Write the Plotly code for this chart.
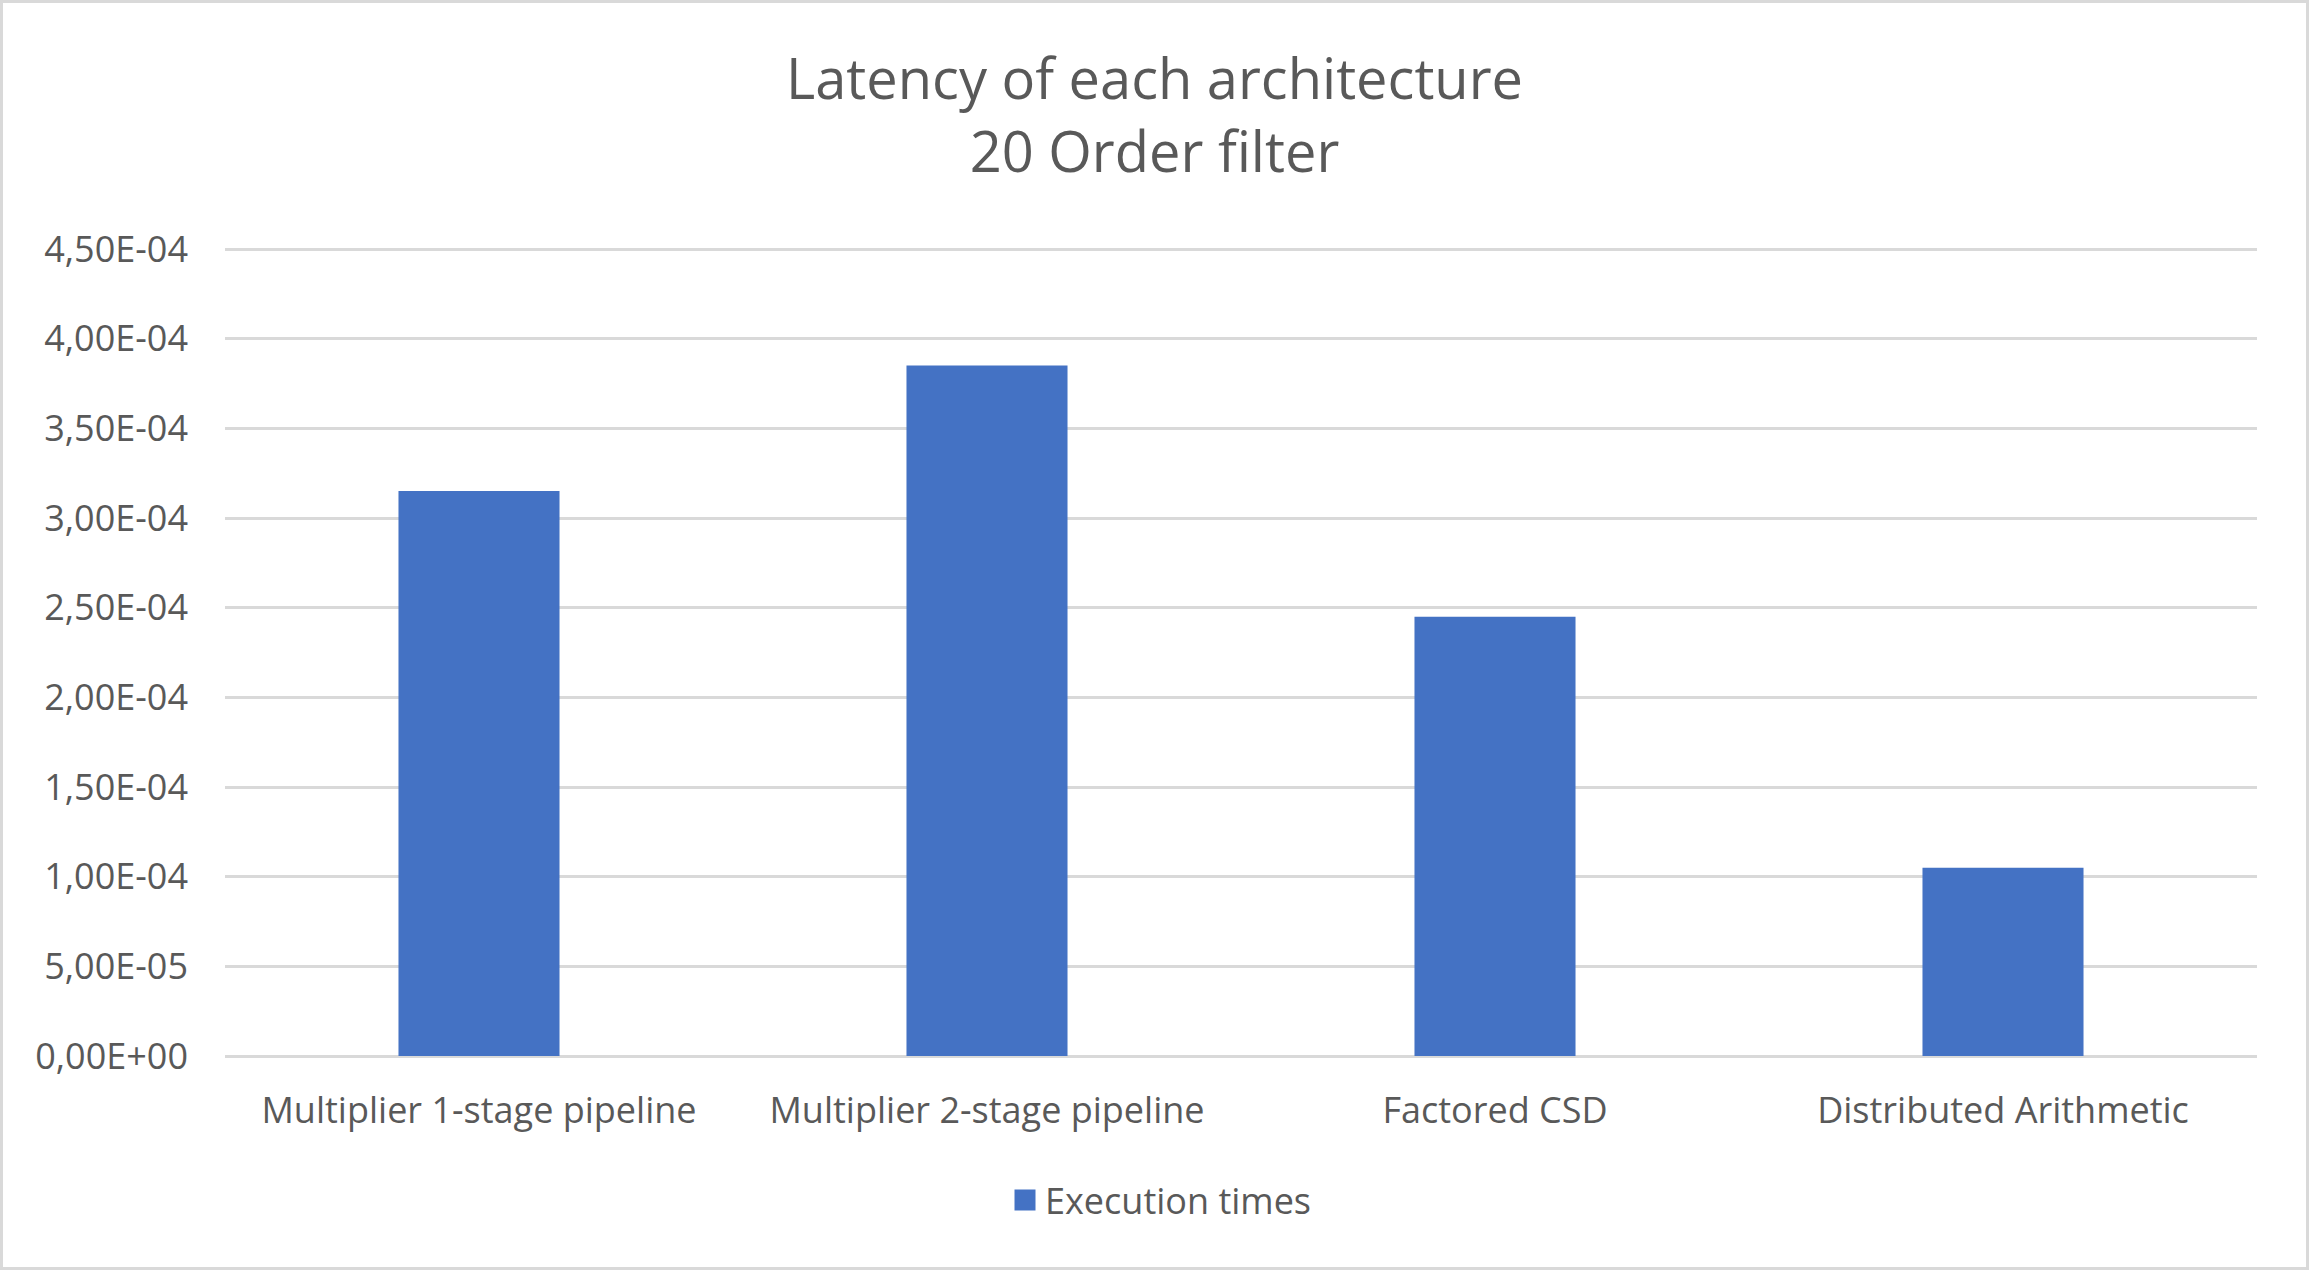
import plotly.graph_objects as go

categories = ["Multiplier 1-stage pipeline", "Multiplier 2-stage pipeline", "Factored CSD", "Distributed Arithmetic"]
execution_times = [3.15e-4, 3.85e-4, 2.45e-4, 1.05e-4]
series_name = "Execution times"
y_tick_values = [0, 5e-5, 1e-4, 1.5e-4, 2e-4, 2.5e-4, 3e-4, 3.5e-4, 4e-4, 4.5e-4]
y_tick_labels = ["0,00E+00", "5,00E-05", "1,00E-04", "1,50E-04", "2,00E-04",
                 "2,50E-04", "3,00E-04", "3,50E-04", "4,00E-04", "4,50E-04"]
y_max = 4.5e-4
title_text = "Latency of each architecture<br>20 Order filter"

W, H = 2309, 1270
TOP_EXTRA = 3  # px above the top gridline so it is not clipped
ML, MR, MT, MB = 225, 52, 249 - TOP_EXTRA, 214
PW, PH = W - ML - MR, H - MT - MB
y_range_top = y_max * PH / (PH - TOP_EXTRA)

def px_x(p):
    return (p - ML) / PW

def px_y(p):
    return (H - MB - p) / PH

BLUE = "#4472C4"
TXT = "#595959"
GRID = "#D9D9D9"
FONT = "Open Sans"

fig = go.Figure()
fig.add_trace(go.Bar(x=categories, y=execution_times, marker=dict(color=BLUE, line=dict(width=0)),
                     name=series_name, showlegend=False))
fig.add_trace(go.Scatter(x=[None], y=[None], mode="markers", name=series_name,
                         marker=dict(symbol="square", size=16, color=BLUE, line=dict(color=BLUE, width=5)),
                         showlegend=True))

fig.update_layout(
    width=W, height=H,
    margin=dict(l=ML, r=MR, t=MT, b=MB, pad=0),
    paper_bgcolor="white", plot_bgcolor="white",
    font=dict(family=FONT, size=36, color=TXT),
    title=dict(text=title_text, x=0.5, xanchor="center", xref="container",
               y=1 - 99 / H, yanchor="top", yref="container",
               font=dict(family=FONT, size=56, color=TXT)),
    bargap=0.683,
    showlegend=True,
    legend=dict(orientation="h", x=px_x(1005), xanchor="left", y=px_y(1200), yanchor="middle",
                font=dict(family=FONT, size=36, color=TXT), bgcolor="rgba(0,0,0,0)"),
    xaxis=dict(type="category", showgrid=False, showline=False, ticks="",
               tickfont=dict(family=FONT, size=36, color=TXT), ticklabelstandoff=30),
    yaxis=dict(range=[0, y_range_top], tickvals=y_tick_values, ticktext=y_tick_labels,
               showgrid=True, gridcolor=GRID, gridwidth=2.5,
               zeroline=True, zerolinecolor=GRID, zerolinewidth=2.5,
               showline=False, ticks="",
               tickfont=dict(family=FONT, size=36, color=TXT), ticklabelstandoff=36),
    shapes=[dict(type="rect", xref="paper", yref="paper",
                 x0=px_x(1.5), x1=px_x(W - 1.5), y0=px_y(H - 1.5), y1=px_y(1.5),
                 line=dict(color=GRID, width=3), fillcolor="rgba(0,0,0,0)", layer="below")],
)

fig.write_html("out.html", config={"displayModeBar": False},
               post_script="document.body.style.margin='0';document.body.style.overflow='hidden';")
